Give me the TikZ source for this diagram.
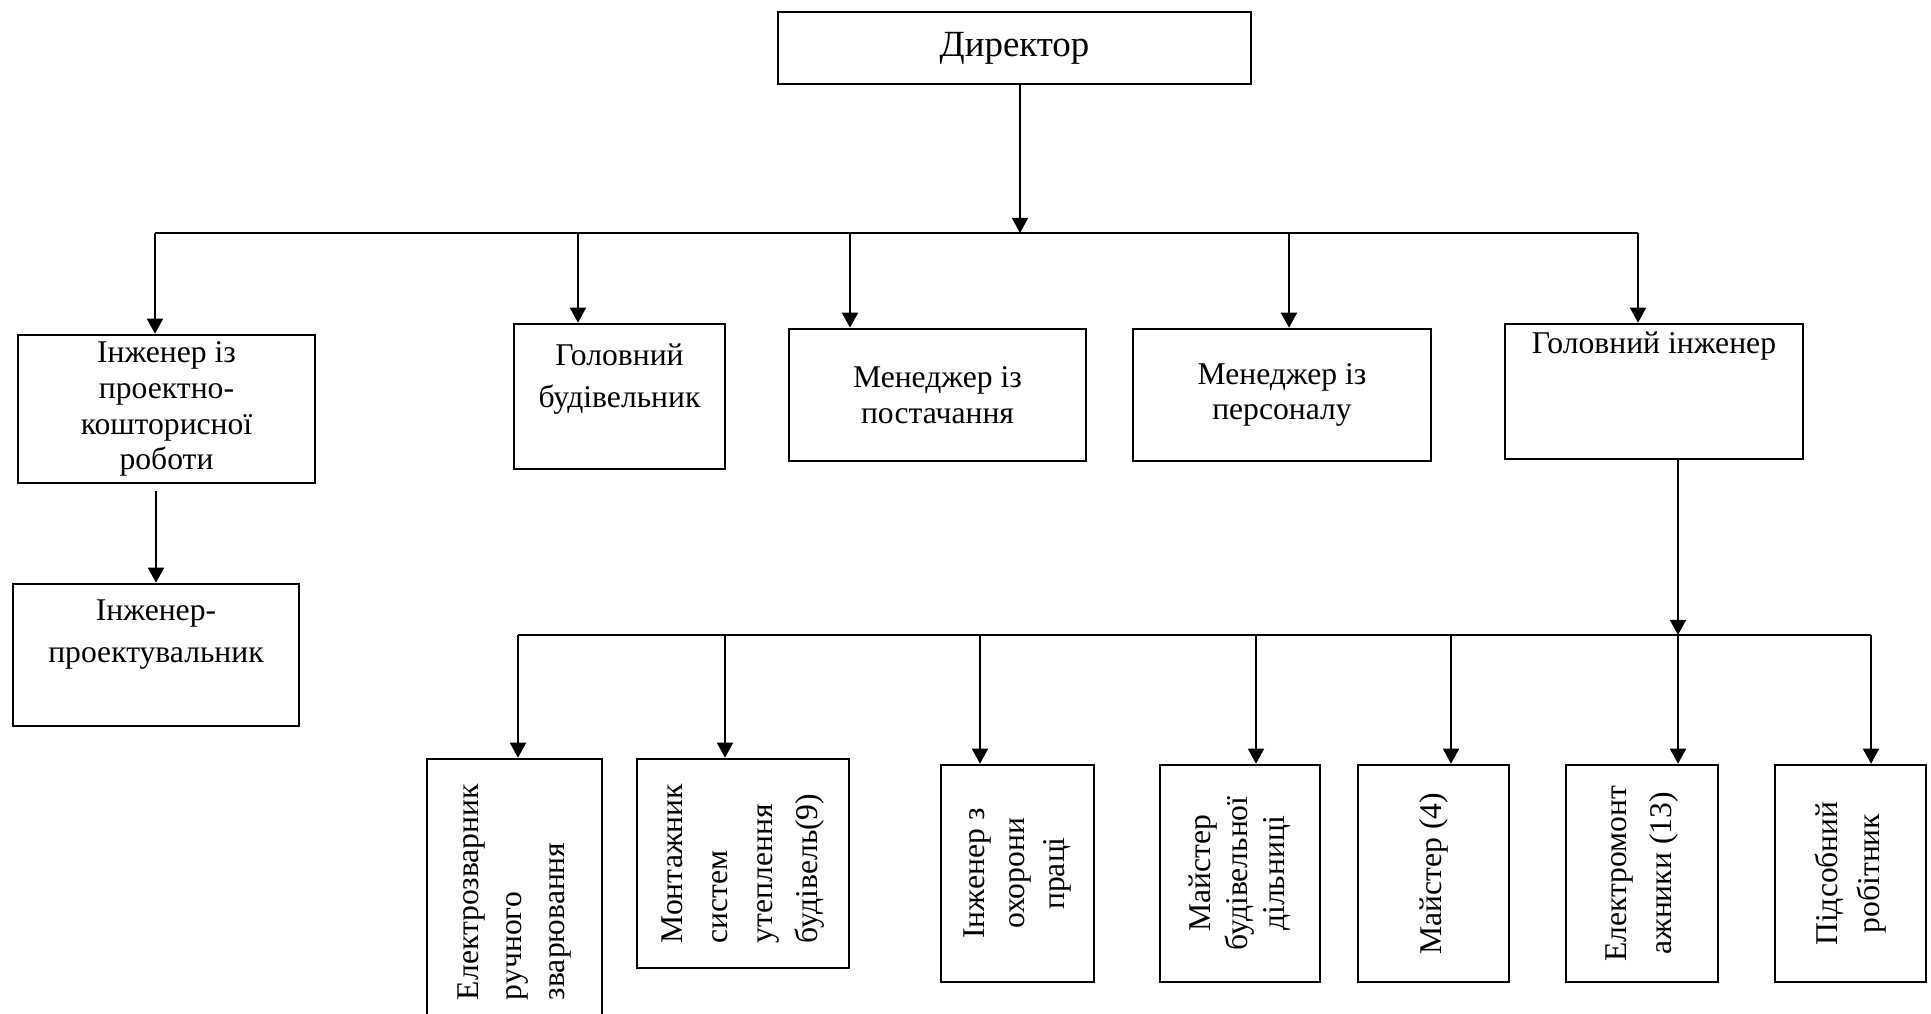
\documentclass[tikz,border=0pt]{standalone}
\usepackage{fontspec}
\setmainfont{Liberation Serif}
\usetikzlibrary{arrows.meta,positioning}

\begin{document}
\begin{tikzpicture}
\tikzset{edge/.style = {->,> = {Triangle[length=4.3pt,width=4.5pt]}, line width=0.7pt}}
\tikzset{box/.style = {shape=rectangle,draw=black,line width=0.7pt,inner sep=1pt,align=center,font=\fontsize{9}{10.2}\selectfont}}
\tikzset{vbox/.style = {box,rotate=90,minimum width=2.17cm,font=\fontsize{9}{12.5}\selectfont}}
\tikzset{txt/.style = {inner sep=0pt,align=center,font=\fontsize{9}{12}\selectfont}}

\useasboundingbox (0,0) rectangle (19.31,10.13);

\node[box,minimum width=4.73cm,minimum height=0.72cm,font=\fontsize{10.5}{12}\selectfont] (dir) at (10.145,9.65) {Директор};

\node[box,minimum width=2.97cm,minimum height=1.48cm] (ipk) at (1.665,6.04) {Інженер із\\проектно-\\кошторисної\\роботи};
\node[box,minimum width=2.11cm,minimum height=1.45cm] (gb) at (6.195,6.165) {};
\node[txt,below=0.2cm of gb.north] (gb-t) {Головний\\будівельник};
\node[box,minimum width=2.97cm,minimum height=1.32cm] (mpost) at (9.375,6.18) {Менеджер із\\постачання};
\node[box,minimum width=2.98cm,minimum height=1.32cm] (mpers) at (12.82,6.18) {Менеджер із\\персоналу};
\node[box,minimum width=2.98cm,minimum height=1.35cm] (gi) at (16.54,6.215) {};
\node[txt,below=0.085cm of gi.north] (gi-t) {Головний інженер};

\node[box,minimum width=2.86cm,minimum height=1.42cm] (ip) at (1.56,3.58) {};
\node[txt,below=0.165cm of ip.north] (ip-t) {Інженер-\\проектувальник};

\node[vbox,align=left,minimum width=2.66cm,minimum height=1.75cm,font=\fontsize{9}{12.2}\selectfont] (ez) at (5.145,1.21) {Електрозварник\\ручного\\зварювання};
\node[vbox,align=left,minimum width=2.09cm,minimum height=2.12cm,font=\fontsize{9}{12.8}\selectfont] (mon) at (7.43,1.495) {Монтажник\\систем\\утеплення\\будівель(9)};
\node[vbox,minimum height=1.53cm,font=\fontsize{9}{11.5}\selectfont] (io) at (10.175,1.395) {Інженер з\\охорони\\праці};
\node[vbox,minimum height=1.60cm,font=\fontsize{9}{10.5}\selectfont] (mbd) at (12.40,1.395) {Майстер\\будівельної\\дільниці};
\node[vbox,minimum height=1.51cm] (m4) at (14.335,1.395) {Майстер (4)};
\node[vbox,minimum height=1.52cm,font=\fontsize{9}{12.8}\selectfont] (em) at (16.42,1.395) {Електромонт\\ажники (13)};
\node[vbox,minimum height=1.51cm,font=\fontsize{9}{12.2}\selectfont] (pr) at (18.505,1.395) {Підсобний\\робітник};

\coordinate (bar1) at (10.20,7.80);
\coordinate (d1) at (1.55,7.80);
\coordinate (d2) at (5.78,7.80);
\coordinate (d3) at (8.50,7.80);
\coordinate (d4) at (12.89,7.80);
\coordinate (d5) at (16.38,7.80);
\coordinate (e1) at (5.18,3.78);
\coordinate (e2) at (7.25,3.78);
\coordinate (e3) at (9.80,3.78);
\coordinate (e4) at (12.56,3.78);
\coordinate (e5) at (14.51,3.78);
\coordinate (e6) at (16.78,3.78);
\coordinate (e7) at (18.71,3.78);

\draw[line width=0.7pt] (d1) -- (d5);
\draw[line width=0.7pt] (e1) -- (e7);

\path [edge]

(dir.south -| bar1) edge[] (bar1)
(d1) edge[] (d1 |- ipk.north)
(d2) edge[] (d2 |- gb.north)
(d3) edge[] (d3 |- mpost.north)
(d4) edge[] (d4 |- mpers.north)
(d5) edge[] (d5 |- gi.north)
([yshift=-0.07cm]ipk.south -| ip.north) edge[] (ip.north)
(gi.south -| e6) edge[] (e6)
(e1) edge[] (e1 |- ez.east)
(e2) edge[] (e2 |- mon.east)
(e3) edge[] (e3 |- io.east)
(e4) edge[] (e4 |- mbd.east)
(e5) edge[] (e5 |- m4.east)
(e6) edge[] (e6 |- em.east)
(e7) edge[] (e7 |- pr.east)
;

\end{tikzpicture}
\end{document}
